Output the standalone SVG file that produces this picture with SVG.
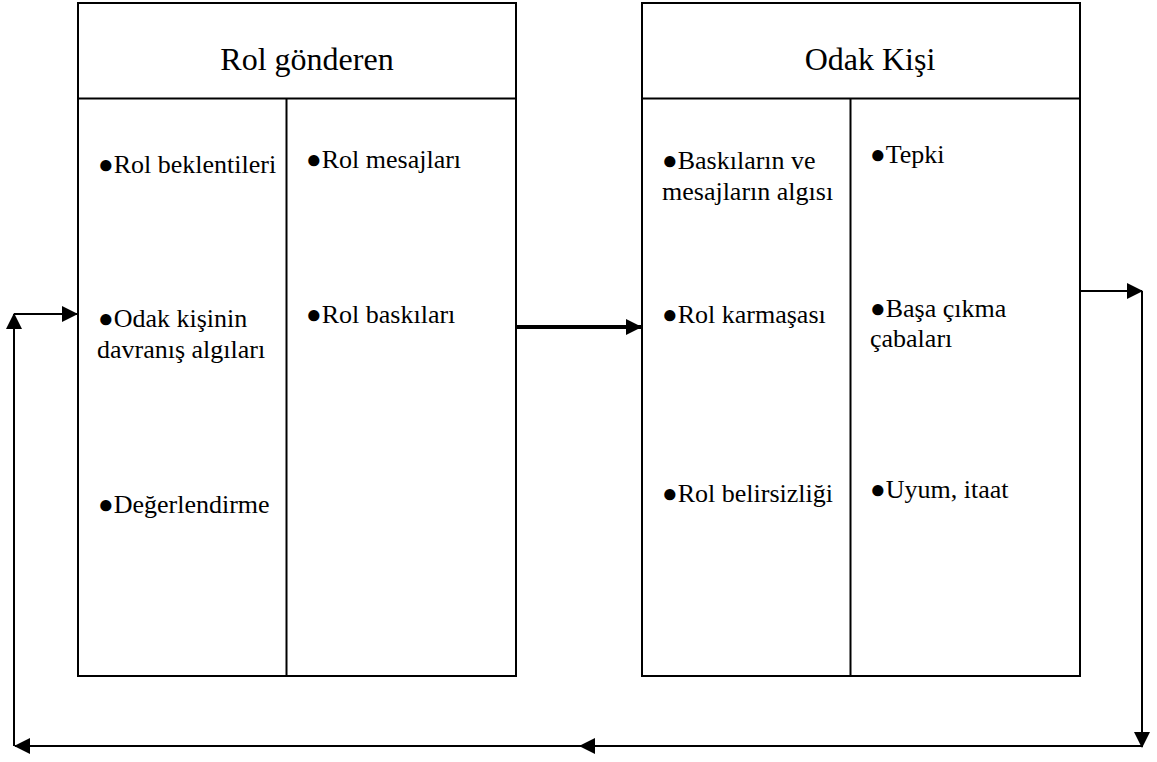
<svg xmlns="http://www.w3.org/2000/svg" width="1157" height="762" viewBox="0 0 1157 762" font-family="Liberation Serif, Times New Roman, serif">
<defs>
<style>
.box{fill:#fff;stroke:#000;stroke-width:2}
.ln{stroke:#000;stroke-width:2;fill:none}
.title{font-size:32px;fill:#000;text-anchor:middle}
.t{font-size:26px;fill:#000}
.c{stroke:#000;stroke-width:2;fill:none}
</style>
<marker id="ah" markerUnits="userSpaceOnUse" markerWidth="16" markerHeight="16" viewBox="0 0 16 16" refX="15" refY="8" orient="auto">
<path d="M0,0 L16,8 L0,16 Z" fill="#000"/>
</marker>
</defs>
<rect width="1157" height="762" fill="#fff"/>

<g id="rol-gonderen" font-family="Liberation Serif, serif">
<rect class="box" x="78" y="3" width="438" height="673"/>
<line class="ln" x1="78" y1="98.5" x2="516" y2="98.5"/>
<line class="ln" x1="286.5" y1="98.5" x2="286.5" y2="676"/>
<text class="title" x="307" y="70" font-family="Liberation Serif, serif">Rol gönderen</text>
<text class="t" x="98" y="173" font-family="Liberation Serif, serif">●Rol beklentileri</text>
<text class="t" x="98" y="327" font-family="Liberation Serif, serif">●Odak kişinin</text>
<text class="t" x="97" y="358" font-family="Liberation Serif, serif">davranış algıları</text>
<text class="t" x="98" y="513" font-family="Liberation Serif, serif">●Değerlendirme</text>
<text class="t" x="306" y="168" font-family="Liberation Serif, serif">●Rol mesajları</text>
<text class="t" x="306" y="323" font-family="Liberation Serif, serif">●Rol baskıları</text>
</g>

<g id="odak-kisi" font-family="Liberation Serif, serif">
<rect class="box" x="642" y="3" width="438" height="673"/>
<line class="ln" x1="642" y1="98.5" x2="1080" y2="98.5"/>
<line class="ln" x1="850.5" y1="98.5" x2="850.5" y2="676"/>
<text class="title" x="870" y="70" font-family="Liberation Serif, serif">Odak Kişi</text>
<text class="t" x="662" y="169" font-family="Liberation Serif, serif">●Baskıların ve</text>
<text class="t" x="662" y="200" font-family="Liberation Serif, serif">mesajların algısı</text>
<text class="t" x="662" y="323" font-family="Liberation Serif, serif">●Rol karmaşası</text>
<text class="t" x="662" y="502" font-family="Liberation Serif, serif">●Rol belirsizliği</text>
<text class="t" x="870" y="163" font-family="Liberation Serif, serif">●Tepki</text>
<text class="t" x="870" y="317" font-family="Liberation Serif, serif">●Başa çıkma</text>
<text class="t" x="870" y="347" font-family="Liberation Serif, serif">çabaları</text>
<text class="t" x="870" y="498" font-family="Liberation Serif, serif">●Uyum, itaat</text>
</g>

<g id="connectors">
<line x1="517" y1="327" x2="641" y2="327" stroke="#000" stroke-width="4" marker-end="url(#ah)"/>
<polyline class="c" points="1081,291 1142,291" marker-end="url(#ah)"/>
<polyline class="c" points="1142,291 1142,747" marker-end="url(#ah)"/>
<polyline class="c" points="1142,746 580,746" marker-end="url(#ah)"/>
<polyline class="c" points="580,746 15,746" marker-end="url(#ah)"/>
<polyline class="c" points="14,746 14,314" marker-end="url(#ah)"/>
<polyline class="c" points="14,314 77,314" marker-end="url(#ah)"/>
</g>
</svg>
